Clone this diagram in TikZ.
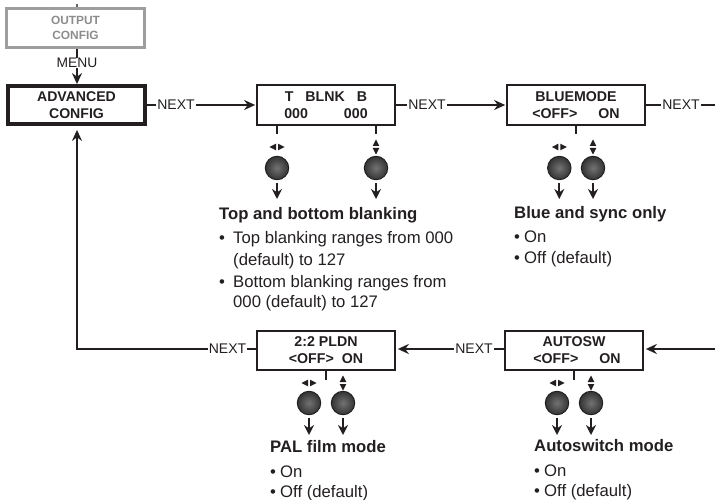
\documentclass[tikz,border=0pt]{standalone}
\usepackage{fontspec}
\setmainfont{Liberation Sans}
\usetikzlibrary{arrows.meta}
\definecolor{ink}{HTML}{231F20}
\tikzset{
  x=1pt,y=-1pt,
  every node/.style={text=ink},
  lcd/.style={draw=ink,line width=1.7pt,minimum width=138pt,minimum height=39.5pt,inner sep=0pt,align=center,font=\fontsize{14.2}{17.2}\selectfont\bfseries,execute at begin node={\rule{0pt}{12.2pt}}},
  advbox/.style={lcd,line width=3.8pt,minimum width=137.5pt,minimum height=38pt,font=\fontsize{14.1}{17.2}\selectfont\bfseries},
  outbox/.style={lcd,draw=black!38,line width=3pt,text=black!45,font=\fontsize{11.9}{15}\selectfont\bfseries,execute at begin node={}},
  nextlbl/.style={inner sep=1pt,font=\fontsize{14}{14}\selectfont},
  link/.style={draw=ink,line width=1.8pt},
  arr/.style={link,shorten >=1pt,-{Stealth[length=11pt,width=10pt]}},
  tick/.style={draw=ink,line width=1.3pt},
  knob/.style={circle,minimum size=23.5pt,inner sep=0pt,draw=black!88,line width=.9pt,inner color=black!55,outer color=black!80},
  head/.style={anchor=base west,inner sep=0pt,font=\fontsize{16.7}{18}\selectfont\bfseries},
  item/.style={anchor=base west,inner sep=0pt,font=\fontsize{16.7}{18}\selectfont},
  pics/lr/.style={code={\fill[ink] (-1,-3.3)--(-1,3.3)--(-7.5,0)--cycle (1,-3.3)--(1,3.3)--(7.5,0)--cycle;}},
  pics/ud/.style={code={\fill[ink] (-3.3,-1)--(3.3,-1)--(0,-7.5)--cycle (-3.3,1)--(3.3,1)--(0,7.5)--cycle;}},
}
\newcommand{\bul}[1]{\makebox[#1][l]{•}}
\begin{document}
\begin{tikzpicture}
\useasboundingbox (0,0) rectangle (715,500);
% boxes
\node[outbox] (out) at (75.5,28) {OUTPUT\\CONFIG};
\node[advbox] (adv) at (76.5,105) {ADVANCED\\CONFIG};
\node[lcd] (blnk) at (326,105) {T\hspace{12pt}BLNK\hspace{12pt}B\\000\hspace{36pt}000};
\node[lcd] (blue) at (576,105) {BLUEMODE\\<OFF>\hspace{21pt}ON};
\node[lcd] (pldn) at (326,350.5) {2:2 PLDN\\<OFF>\hspace{8pt}ON};
\node[lcd] (asw) at (574,350.5) {AUTOSW\\\hspace{6pt}<OFF>\hspace{21pt}ON};
% top stub
\coordinate (topstub) at (77,4);
\draw[tick,draw=black!60] (topstub) -- (out.north -| topstub);
% menu
\node[nextlbl,inner sep=0pt,font=\fontsize{13.8}{14}\selectfont] (menu) at (77,63) {MENU};
\draw[tick,line width=1.4pt] (out.south -| menu) -- (menu.north);
\draw[arr,shorten >=0pt] (menu.south) -- (adv.north -| menu);
% next labels
\node[nextlbl] (n1) at (176,105) {NEXT};
\node[nextlbl] (n2) at (427,105) {NEXT};
\node[nextlbl] (n3) at (681,105) {NEXT};
\node[nextlbl] (n4) at (474,349) {NEXT};
\node[nextlbl] (n5) at (227.5,349) {NEXT};
\coordinate (e3) at (715,105);
\coordinate (e4) at (715,349);
\coordinate (corner) at (77,349);
\draw[link] (adv.east) -- (n1.west);
\draw[arr] (n1.east) -- (blnk.west);
\draw[link] (blnk.east) -- (n2.west);
\draw[arr] (n2.east) -- (blue.west);
\draw[link] (blue.east) -- (n3.west);
\draw[link] (n3.east) -- (e3);
\draw[arr,shorten >=2pt] (e4) -- (asw.east |- e4);
\draw[link] (asw.west |- e4) -- (n4.east);
\draw[arr,shorten >=2pt] (n4.west) -- (pldn.east |- e4);
\draw[link] (pldn.west |- e4) -- (n5.east);
\draw[arr,shorten >=4pt] (n5.west) -- (corner) -- (adv.south -| corner);
% stubs
\coordinate (s1) at (277,134); \coordinate (s2) at (376,134);
\coordinate (s3) at (576,134); \coordinate (s4) at (326,380); \coordinate (s5) at (574,380);
\draw[tick] (blnk.south -| s1) -- (s1);
\draw[tick] (blnk.south -| s2) -- (s2);
\draw[tick] (blue.south -| s3) -- (s3);
\draw[tick] (pldn.south -| s4) -- (s4);
\draw[tick] (asw.south -| s5) -- (s5);
% knobs
\node[knob] (k1) at (277,168) {};
\node[knob] (k2) at (376,168) {};
\node[knob] (k3) at (559.3,168) {};
\node[knob] (k4) at (593,168) {};
\node[knob] (k5) at (309,403) {};
\node[knob] (k6) at (343,403) {};
\node[knob] (k7) at (557,403) {};
\node[knob] (k8) at (591,403) {};
% direction glyphs
\pic at (277,147) {lr}; \pic at (376,147) {ud};
\pic at (559.3,147) {lr}; \pic at (593,147) {ud};
\pic at (309,383) {lr}; \pic at (343,383) {ud};
\pic at (557,383) {lr}; \pic at (591,383) {ud};
% knob arrows
\foreach \k/\ex/\ey in {k1/277/199,k2/376/199,k3/559.3/199,k4/593/199,k5/309/435,k6/343/435,k7/557/435,k8/591/435}{
  \coordinate (t\k) at (\ex,\ey);
  \draw[link,-{Stealth[length=10pt,width=10pt]}] ([yshift=-3pt]\k.south) -- (t\k);
}
% texts
\node[head] (h1) at (219,219) {Top and bottom blanking};
\node[item] (i1a) at (219,243) {\bul{14pt}Top blanking ranges from 000};
\node[item] (i1b) at (233,265) {(default) to 127};
\node[item] (i2a) at (219,287) {\bul{14pt}Bottom blanking ranges from};
\node[item] (i2b) at (233,307) {000 (default) to 127};
\node[head] (h2) at (514,218) {Blue and sync only};
\node[item] (i3a) at (514,242) {\bul{10pt}On};
\node[item] (i3b) at (514,263) {\bul{10pt}Off (default)};
\node[head] (h3) at (270,452) {PAL film mode};
\node[item] (i4a) at (270,477) {\bul{10pt}On};
\node[item] (i4b) at (270,497) {\bul{10pt}Off (default)};
\node[head] (h4) at (534,451) {Autoswitch mode};
\node[item] (i5a) at (534,476) {\bul{10pt}On};
\node[item] (i5b) at (534,496) {\bul{10pt}Off (default)};
\end{tikzpicture}
\end{document}
